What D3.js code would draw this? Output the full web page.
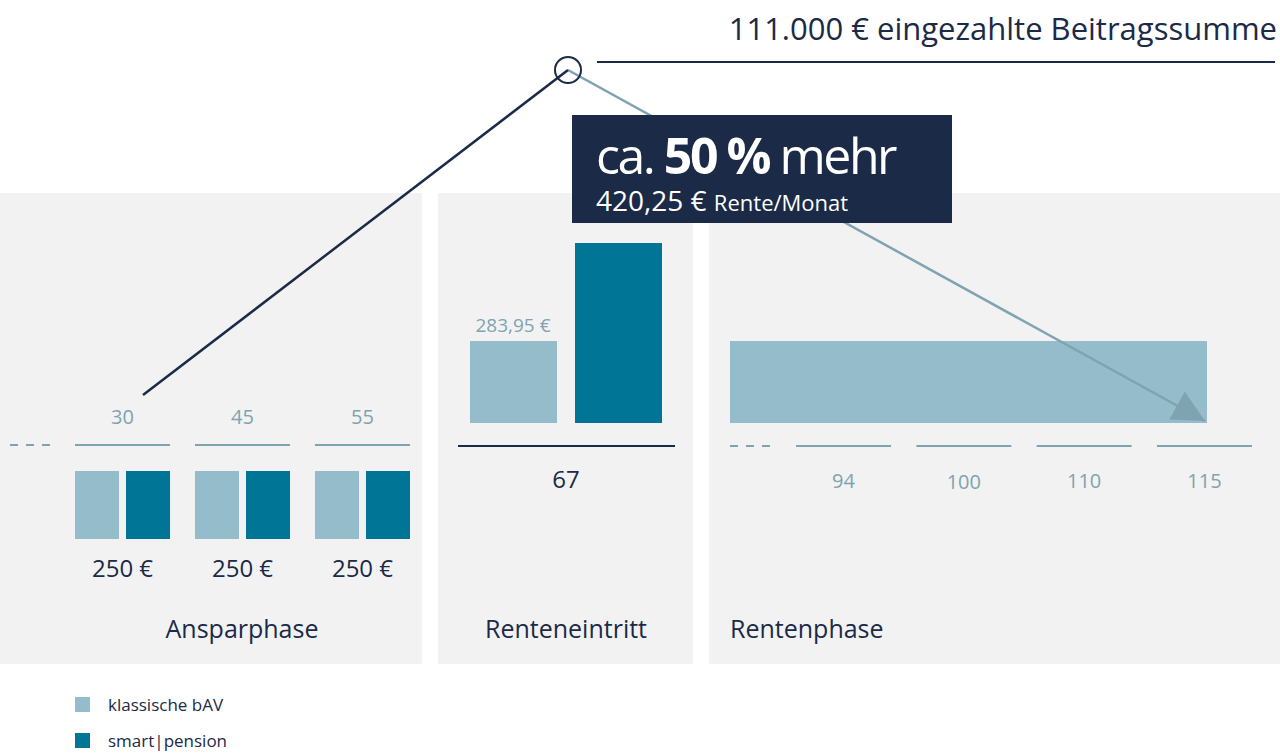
<!DOCTYPE html>
<html><head><meta charset="utf-8">
<script src="https://cdn.jsdelivr.net/npm/d3@7"></script>
<style>body{margin:0;background:#fff}svg{display:block;font-family:"Open Sans",Lato,"Noto Sans",sans-serif}</style>
</head><body>
<script>
const ages = ["30","45","55"];
const beitrag = [250, 250, 250];
const renteKlassisch = 283.95;
const renteSmart = 420.25;
const rentenAlter = ["94","100","110","115"];
const phasen = ["Ansparphase","Renteneintritt","Rentenphase"];
const legende = ["klassische bAV","smart|pension"];

const navy = "#1b2a47", light = "#94bccb", dark = "#007595", muted = "#7fa3b0", panel = "#f2f2f2";
const svg = d3.select("body").append("svg").attr("width",1280).attr("height",755);

// panels
[[0,422],[438,693],[709,1280]].forEach(p=>{
  svg.append("rect").attr("x",p[0]).attr("y",193).attr("width",p[1]-p[0]).attr("height",471).attr("fill",panel);
});

// Ansparphase
const xA = d3.scaleBand().domain(ages).range([75,410]).paddingInner(0.208);
const yB = d3.scaleLinear().domain([0,250]).range([539,471]);
ages.forEach((a,i)=>{
  const x = xA(a), w = xA.bandwidth();
  svg.append("text").attr("x",x+w/2).attr("y",424).attr("text-anchor","middle").attr("fill",muted).attr("font-size",20).text(a);
  svg.append("line").attr("x1",x).attr("x2",x+w).attr("y1",445).attr("y2",445).attr("stroke",muted).attr("stroke-width",2);
  const bw = (w-7)/2;
  svg.append("rect").attr("x",x).attr("y",yB(beitrag[i])).attr("width",bw).attr("height",yB(0)-yB(beitrag[i])).attr("fill",light);
  svg.append("rect").attr("x",x+bw+7).attr("y",yB(beitrag[i])).attr("width",bw).attr("height",yB(0)-yB(beitrag[i])).attr("fill",dark);
  svg.append("text").attr("x",x+w/2).attr("y",577).attr("text-anchor","middle").attr("fill",navy).attr("font-size",24).text(beitrag[i]+" €");
});
svg.append("line").attr("x1",10).attr("x2",50).attr("y1",445).attr("y2",445).attr("stroke",muted).attr("stroke-width",2).attr("stroke-dasharray","8,8");

// Renteneintritt
const yR = d3.scaleLinear().domain([170,420.25]).range([423,243]);
svg.append("rect").attr("x",470).attr("y",yR(renteKlassisch)).attr("width",87).attr("height",yR(170)-yR(renteKlassisch)).attr("fill",light);
svg.append("rect").attr("x",575).attr("y",yR(renteSmart)).attr("width",87).attr("height",yR(170)-yR(renteSmart)).attr("fill",dark);
svg.append("text").attr("x",513).attr("y",yR(renteKlassisch)-9).attr("text-anchor","middle").attr("fill",muted).attr("font-size",19).text("283,95 €");
svg.append("line").attr("x1",458).attr("x2",675).attr("y1",446).attr("y2",446).attr("stroke",navy).attr("stroke-width",2);
svg.append("text").attr("x",566).attr("y",488).attr("text-anchor","middle").attr("fill",navy).attr("font-size",24).text("67");

// Rentenphase
svg.append("rect").attr("x",730).attr("y",yR(renteKlassisch)).attr("width",477).attr("height",yR(170)-yR(renteKlassisch)).attr("fill",light);
svg.append("line").attr("x1",730).attr("x2",770).attr("y1",446).attr("y2",446).attr("stroke",muted).attr("stroke-width",2).attr("stroke-dasharray","8,8");
const xR = d3.scaleBand().domain(rentenAlter).range([796,1252]).paddingInner(0.21);
rentenAlter.forEach((a,i)=>{
  const x = xR(a), w = xR.bandwidth();
  svg.append("line").attr("x1",x).attr("x2",x+w).attr("y1",446).attr("y2",446).attr("stroke",muted).attr("stroke-width",2);
  svg.append("text").attr("x",x+w/2).attr("y",488+(i==1?1:0)).attr("text-anchor","middle").attr("fill",muted).attr("font-size",20).text(a);
});

// phase labels
[[242,"middle"],[566,"middle"],[730,"start"]].forEach((p,i)=>{
  svg.append("text").attr("x",p[0]).attr("y",638).attr("text-anchor",p[1]).attr("fill",navy).attr("font-size",25).text(phasen[i]);
});

// connector lines
svg.append("defs").append("marker").attr("id","arr").attr("viewBox","0 0 10 10").attr("refX",10).attr("refY",5)
  .attr("markerWidth",32).attr("markerHeight",32).attr("orient","auto").attr("markerUnits","userSpaceOnUse")
  .append("path").attr("d","M0,0L10,5L0,10z").attr("fill",muted);
svg.append("line").attr("x1",568).attr("y1",70).attr("x2",1205).attr("y2",421).attr("stroke",muted).attr("stroke-width",2.5).attr("marker-end","url(#arr)");
svg.append("line").attr("x1",568).attr("y1",70).attr("x2",143).attr("y2",395).attr("stroke",navy).attr("stroke-width",2.5);
svg.append("circle").attr("cx",568).attr("cy",70).attr("r",13).attr("fill","none").attr("stroke",navy).attr("stroke-width",2);

// title
svg.append("text").attr("x",1277).attr("y",40).attr("text-anchor","end").attr("fill",navy).attr("font-size",31).text("111.000 € eingezahlte Beitragssumme");
svg.append("line").attr("x1",597).attr("x2",1275).attr("y1",62).attr("y2",62).attr("stroke",navy).attr("stroke-width",2);

// callout
svg.append("rect").attr("x",572).attr("y",115).attr("width",380).attr("height",108).attr("fill",navy);
const t1 = svg.append("text").attr("x",596).attr("y",174).attr("fill","#fff").attr("font-size",50).attr("letter-spacing",-2.5);
t1.append("tspan").text("ca. ");
t1.append("tspan").attr("font-weight","bold").text("50 %");
t1.append("tspan").text(" mehr");
const t2 = svg.append("text").attr("x",596).attr("y",211).attr("fill","#fff");
t2.append("tspan").attr("font-size",28).text("420,25 € ");
t2.append("tspan").attr("font-size",22).text("Rente/Monat");

// legend
[light,dark].forEach((c,i)=>{
  svg.append("rect").attr("x",75).attr("y",697+i*36).attr("width",15).attr("height",15).attr("fill",c);
  svg.append("text").attr("x",108).attr("y",711+i*36).attr("fill",navy).attr("font-size",17).text(legende[i]);
});
</script>
</body></html>
